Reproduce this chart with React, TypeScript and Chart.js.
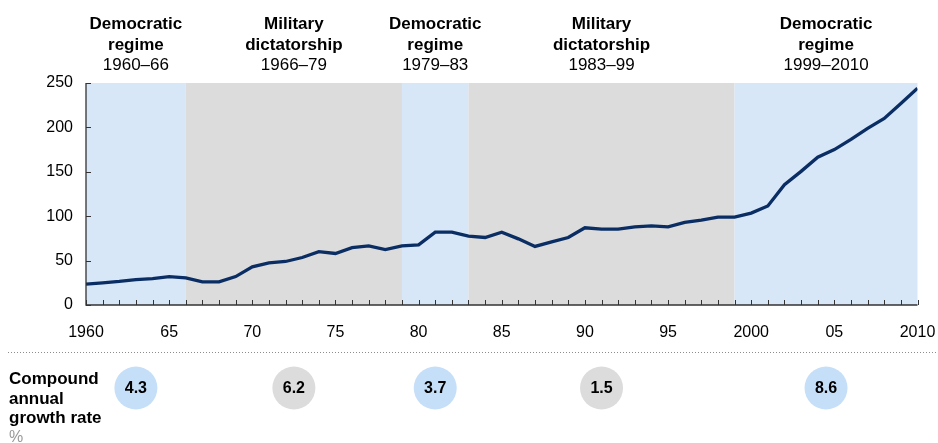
import React, { useEffect, useRef } from 'react';
import { Chart, registerables } from 'chart.js';

Chart.register(...registerables);

const years = [
  1960, 1961, 1962, 1963, 1964, 1965, 1966, 1967, 1968, 1969,
  1970, 1971, 1972, 1973, 1974, 1975, 1976, 1977, 1978, 1979,
  1980, 1981, 1982, 1983, 1984, 1985, 1986, 1987, 1988, 1989,
  1990, 1991, 1992, 1993, 1994, 1995, 1996, 1997, 1998, 1999,
  2000, 2001, 2002, 2003, 2004, 2005, 2006, 2007, 2008, 2009, 2010,
];

const gdpIndex = [
  23.5, 25, 26.5, 28.5, 29.8, 32, 30.5, 26, 26, 32,
  43, 47.5, 49, 53.5, 60, 58, 64.5, 66.5, 62.5, 66.5,
  67.8, 82, 82, 77.5, 76, 82, 74.5, 66, 71, 76,
  87, 85.5, 85.5, 88, 89, 88, 93, 95.5, 99, 99,
  103.5, 111.5, 135.5, 150.5, 166.5, 175, 186.5, 199, 210, 227, 244,
];

const periodStarts = [1960, 1966, 1979, 1983, 1999];
const periodEnds = [1966, 1979, 1983, 1999, 2010];
const periodTitleLine1 = ['Democratic', 'Military', 'Democratic', 'Military', 'Democratic'];
const periodTitleLine2 = ['regime', 'dictatorship', 'regime', 'dictatorship', 'regime'];
const periodRanges = ['1960–66', '1966–79', '1979–83', '1983–99', '1999–2010'];
const periodKinds = ['democratic', 'military', 'democratic', 'military', 'democratic'];
const growthRates = ['4.3', '6.2', '3.7', '1.5', '8.6'];

const xTickValues = [1960, 1965, 1970, 1975, 1980, 1985, 1990, 1995, 2000, 2005, 2010];
const xTickLabels = ['1960', '65', '70', '75', '80', '85', '90', '95', '2000', '05', '2010'];
const yTickValues = [0, 50, 100, 150, 200, 250];

const FONT = 'Arial, "Liberation Sans", Helvetica, sans-serif';
const bandColors: Record<string, string> = { democratic: '#d7e7f8', military: '#dcdcdc' };
const circleColors: Record<string, string> = { democratic: '#c6dff8', military: '#dcdcdc' };

const decorPlugin = {
  id: 'decor',
  beforeDraw(chart: any) {
    const { ctx, chartArea } = chart;
    const xs = chart.scales.x;
    ctx.save();
    periodStarts.forEach((s, i) => {
      const x0 = xs.getPixelForValue(s);
      const x1 = xs.getPixelForValue(periodEnds[i]);
      ctx.fillStyle = bandColors[periodKinds[i]];
      ctx.fillRect(x0, chartArea.top, x1 - x0, chartArea.bottom - chartArea.top);
    });
    ctx.fillStyle = '#000';
    ctx.textAlign = 'center';
    ctx.textBaseline = 'alphabetic';
    periodStarts.forEach((s, i) => {
      const cx = xs.getPixelForValue((s + periodEnds[i]) / 2);
      ctx.font = `bold 17px ${FONT}`;
      ctx.fillText(periodTitleLine1[i], cx, 29);
      ctx.fillText(periodTitleLine2[i], cx, 49.5);
      ctx.font = `17px ${FONT}`;
      ctx.fillText(periodRanges[i], cx, 70);
    });
    ctx.strokeStyle = '#8c8c8c';
    ctx.lineWidth = 1;
    ctx.setLineDash([1, 2]);
    ctx.beginPath();
    ctx.moveTo(8, 352.5);
    ctx.lineTo(938, 352.5);
    ctx.stroke();
    ctx.setLineDash([]);
    periodStarts.forEach((s, i) => {
      const cx = xs.getPixelForValue((s + periodEnds[i]) / 2);
      ctx.fillStyle = circleColors[periodKinds[i]];
      ctx.beginPath();
      ctx.arc(cx, 388, 21.5, 0, Math.PI * 2);
      ctx.fill();
      ctx.fillStyle = '#000';
      ctx.font = `bold 16px ${FONT}`;
      ctx.textAlign = 'center';
      ctx.textBaseline = 'middle';
      ctx.fillText(growthRates[i], cx, 389);
    });
    ctx.textAlign = 'left';
    ctx.textBaseline = 'alphabetic';
    ctx.fillStyle = '#000';
    ctx.font = `bold 17px ${FONT}`;
    ctx.fillText('Compound', 9, 384);
    ctx.fillText('annual', 9, 403.5);
    ctx.fillText('growth rate', 9, 423);
    ctx.fillStyle = '#999';
    ctx.font = `16px ${FONT}`;
    ctx.fillText('%', 9, 442);
    ctx.restore();
  },
  afterDraw(chart: any) {
    const { ctx, chartArea } = chart;
    const xs = chart.scales.x;
    const ys = chart.scales.y;
    ctx.save();
    ctx.strokeStyle = '#333';
    ctx.lineWidth = 1.3;
    ctx.beginPath();
    ctx.moveTo(chartArea.left, chartArea.top);
    ctx.lineTo(chartArea.left, chartArea.bottom);
    ctx.lineTo(chartArea.right, chartArea.bottom);
    ctx.stroke();
    ctx.lineWidth = 1;
    ctx.beginPath();
    yTickValues.forEach((v) => {
      const y = Math.round(ys.getPixelForValue(v)) + 0.5;
      ctx.moveTo(chartArea.left, y);
      ctx.lineTo(chartArea.left + 5, y);
    });
    years.forEach((yr) => {
      const x = Math.round(xs.getPixelForValue(yr)) + 0.5;
      ctx.moveTo(x, chartArea.bottom);
      ctx.lineTo(x, chartArea.bottom - 5);
    });
    ctx.stroke();
    ctx.restore();
  },
};

export default function App() {
  const canvasRef = useRef<HTMLCanvasElement | null>(null);

  useEffect(() => {
    if (!canvasRef.current) return;
    const points = years.map((yr, i) => ({ x: yr, y: gdpIndex[i] }));
    const chart = new Chart(canvasRef.current, {
      type: 'line',
      data: {
        datasets: [
          {
            data: points,
            borderColor: '#0a2e64',
            borderWidth: 3.3,
            pointRadius: 0,
            tension: 0,
            fill: false,
          },
        ],
      },
      options: {
        responsive: false,
        animation: false,
        events: [],
        layout: { padding: { top: 83, right: 20.5, bottom: 88, left: 0 } },
        plugins: { legend: { display: false }, tooltip: { enabled: false } },
        scales: {
          x: {
            type: 'linear',
            min: 1960,
            max: 2010,
            grid: { display: false, drawTicks: false },
            border: { display: false },
            afterFit: (scale: any) => {
              scale.height = 50;
              scale.paddingLeft = 0;
              scale.paddingRight = 0;
            },
            afterBuildTicks: (scale: any) => {
              scale.ticks = xTickValues.map((v) => ({ value: v }));
            },
            ticks: {
              padding: 18,
              color: '#000',
              font: { size: 16, family: FONT },
              maxRotation: 0,
              autoSkip: false,
              callback: (value: any) => {
                const idx = xTickValues.indexOf(Number(value));
                return idx >= 0 ? xTickLabels[idx] : '';
              },
            },
          },
          y: {
            min: 0,
            max: 250,
            grid: { display: false, drawTicks: false },
            border: { display: false },
            afterFit: (scale: any) => {
              scale.width = 86;
            },
            afterBuildTicks: (scale: any) => {
              scale.ticks = yTickValues.map((v) => ({ value: v }));
            },
            ticks: {
              padding: 13,
              color: '#000',
              font: { size: 16, family: FONT },
            },
          },
        },
      },
      plugins: [decorPlugin],
    });
    return () => chart.destroy();
  }, []);

  return (
    <div style={{ position: 'absolute', left: 0, top: 0, width: 938, height: 443, background: '#fff' }}>
      <canvas ref={canvasRef} width={938} height={443} style={{ display: 'block' }} />
    </div>
  );
}
